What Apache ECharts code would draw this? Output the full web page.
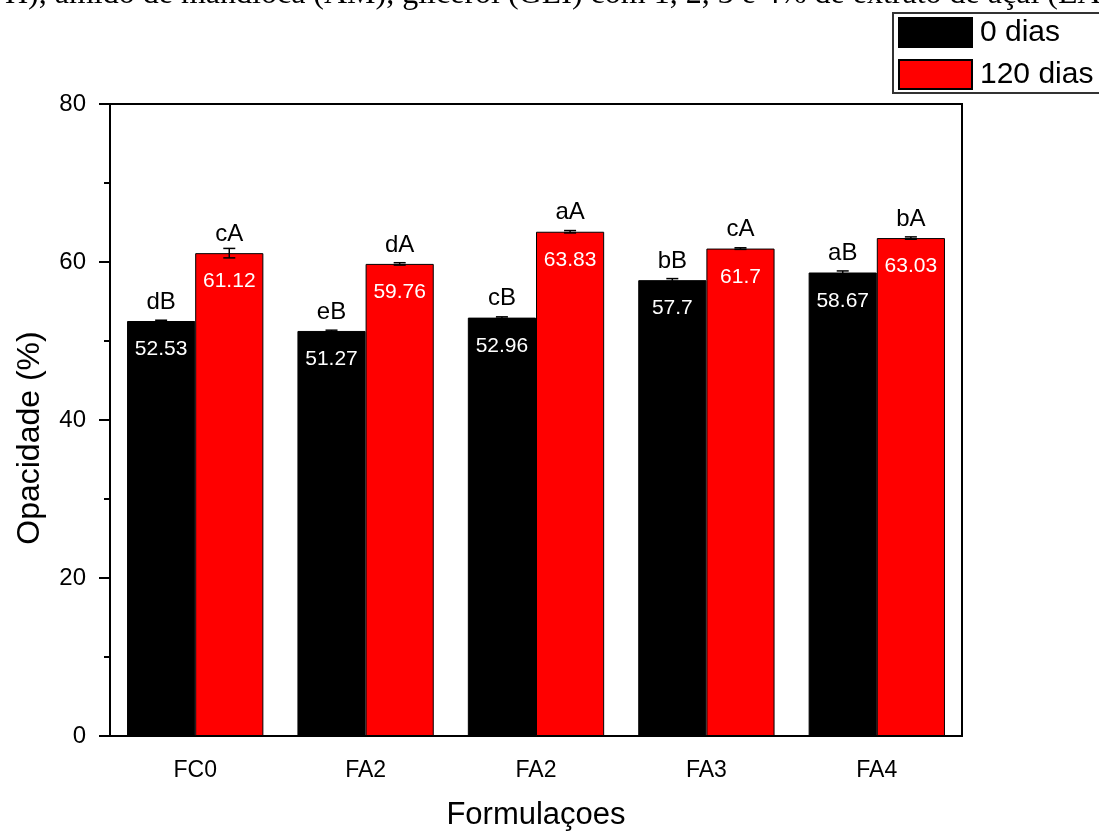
<!DOCTYPE html>
<html>
<head>
<meta charset="utf-8">
<script src="https://cdn.jsdelivr.net/npm/echarts@6/dist/echarts.min.js"></script>
<style>
  html, body { margin: 0; padding: 0; background: #fff; }
  #chart { width: 1099px; height: 832px; }
</style>
</head>
<body>
<div id="chart"></div>
<script>
// Film opacity (%) for each formulation, measured at 0 and 120 days
const categories = ['FC0', 'FA2', 'FA2', 'FA3', 'FA4'];
const days0 = [52.53, 51.27, 52.96, 57.7, 58.67];
const days120 = [61.12, 59.76, 63.83, 61.7, 63.03];
const err0 = [0.1, 0.1, 0.1, 0.2, 0.2];
const err120 = [0.6, 0.15, 0.15, 0.1, 0.15];
const letters0 = ['dB', 'eB', 'cB', 'bB', 'aB'];
const letters120 = ['cA', 'dA', 'aA', 'cA', 'bA'];
const seriesNames = ['0 dias', '120 dias'];
const yMin = 0, yMax = 80, yStep = 20;
const captionText = 'H), amido de mandioca (AM), glicerol (GLI) com 1, 2, 3 e 4% de extrato de açaí (EA';

const FONT = 'Liberation Sans, Arial, sans-serif';
const chart = echarts.init(document.getElementById('chart'));

// error bar + significance letters for one series; side -1 = left bar, +1 = right bar
function annotations(means, errs, letters, side) {
  return {
    type: 'custom',
    xAxisIndex: 0,
    yAxisIndex: 0,
    z: 5,
    silent: true,
    clip: false,
    data: means.map((m, i) => [i, m, errs[i], letters[i]]),
    renderItem: function (params, api) {
      const band = api.size([1, 0])[0];
      const dx = side * band * 0.2;
      const mean = api.value(1), e = api.value(2);
      const top = api.coord([api.value(0), mean + e]);
      const bot = api.coord([api.value(0), mean - e]);
      const mid = api.coord([api.value(0), mean]);
      const x = mid[0] + dx;
      const cap = 6;
      const st = { stroke: '#000', lineWidth: 1.5 };
      return {
        type: 'group',
        children: [
          { type: 'line', shape: { x1: x, y1: top[1], x2: x, y2: bot[1] }, style: st },
          { type: 'line', shape: { x1: x - cap, y1: top[1], x2: x + cap, y2: top[1] }, style: st },
          { type: 'line', shape: { x1: x - cap, y1: bot[1], x2: x + cap, y2: bot[1] }, style: st },
          {
            type: 'text',
            style: {
              x: x, y: mid[1] - 7,
              text: api.value(3),
              fill: '#000',
              font: '24px ' + FONT,
              align: 'center',
              verticalAlign: 'bottom'
            }
          }
        ]
      };
    }
  };
}

function barSeries(name, values, color) {
  return {
    name: name,
    type: 'bar',
    data: values,
    barGap: '0%',
    barCategoryGap: '20%',
    itemStyle: { color: color, borderColor: '#000', borderWidth: 1 },
    label: {
      show: true,
      position: 'insideTop',
      distance: 18,
      color: '#fff',
      fontFamily: FONT,
      fontSize: 21,
      formatter: p => String(p.value)
    }
  };
}

chart.setOption({
  animation: false,
  backgroundColor: '#fff',
  graphic: [
    {
      type: 'text',
      left: 5, top: -21,
      style: { text: captionText, font: '32px Liberation Serif, Times New Roman, serif', fill: '#000' }
    },
    {
      type: 'rect',
      shape: { x: 893, y: 13, width: 230, height: 80 },
      style: { fill: '#fff', stroke: '#333', lineWidth: 2 },
      z: 0
    }
  ],
  legend: {
    orient: 'vertical',
    left: 893, top: 13,
    padding: [4, 0, 0, 5],
    itemWidth: 73, itemHeight: 29,
    itemGap: 11,
    icon: 'rect',
    z: 10,
    textStyle: { fontFamily: FONT, fontSize: 30, color: '#000', padding: [0, 0, 0, 3] },
    data: seriesNames
  },
  grid: {
    left: 110, right: 137, top: 104, bottom: 96,
    containLabel: false,
    outerBoundsMode: 'none',
    show: true, borderColor: '#000', borderWidth: 2
  },
  xAxis: [
    {
      type: 'category',
      position: 'bottom',
      data: categories,
      name: 'Formulaçoes',
      nameLocation: 'middle',
      nameGap: 64,
      nameTextStyle: { fontFamily: FONT, fontSize: 31, color: '#000' },
      axisLine: { lineStyle: { color: '#000', width: 2 } },
      axisTick: { alignWithLabel: true, length: 10, lineStyle: { color: '#000', width: 2 } },
      axisLabel: { margin: 23, fontFamily: FONT, fontSize: 23, color: '#000' }
    },
    {
      type: 'category',
      position: 'bottom',
      data: categories,
      axisLine: { show: false },
      axisTick: { length: 6, lineStyle: { color: '#000', width: 2 } },
      axisLabel: { show: false }
    }
  ],
  yAxis: {
    type: 'value',
    min: yMin, max: yMax, interval: yStep,
    name: 'Opacidade (%)',
    nameLocation: 'middle',
    nameGap: 64,
    nameTextStyle: { fontFamily: FONT, fontSize: 32, color: '#000', padding: [0, 36, 0, 0] },
    axisLine: { show: true, lineStyle: { color: '#000', width: 2 } },
    axisTick: { show: true, length: 11, lineStyle: { color: '#000', width: 2 } },
    minorTick: { show: true, splitNumber: 2, length: 6, lineStyle: { color: '#000', width: 2 } },
    splitLine: { show: false },
    axisLabel: { margin: 24, fontFamily: FONT, fontSize: 24, color: '#000' }
  },
  series: [
    barSeries(seriesNames[0], days0, '#000000'),
    barSeries(seriesNames[1], days120, '#ff0000'),
    annotations(days0, err0, letters0, -1),
    annotations(days120, err120, letters120, 1)
  ]
});
</script>
</body>
</html>
